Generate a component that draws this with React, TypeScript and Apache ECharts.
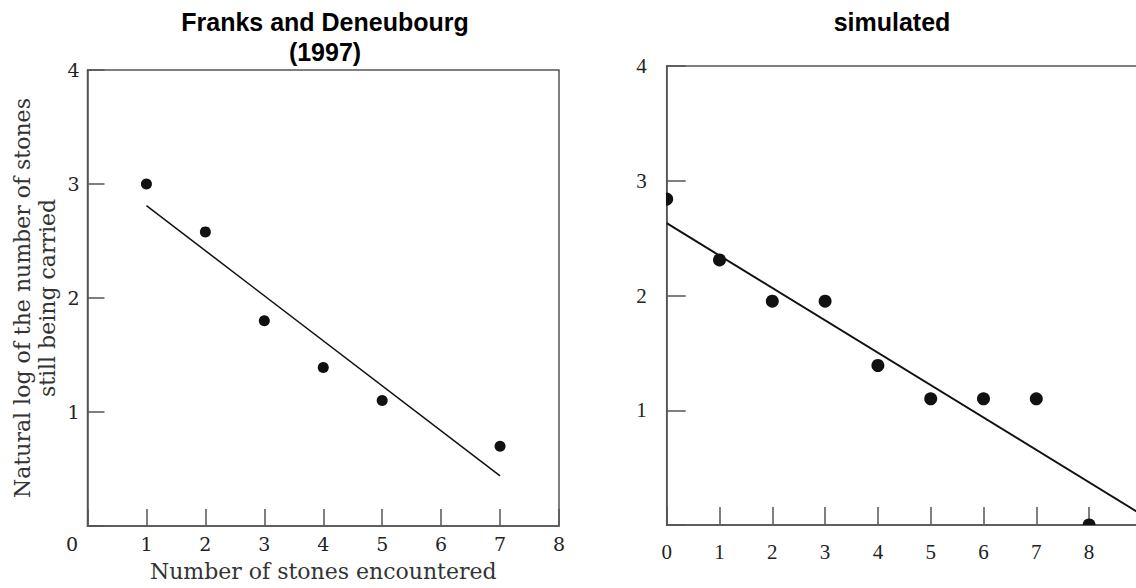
import React, { useEffect, useRef } from "react";
import * as echarts from "echarts";

// Franks and Deneubourg (1997): stones encountered vs ln(stones still carried)
const fieldX = [1, 2, 3, 4, 5, 7];
const fieldY = [3.0, 2.58, 1.8, 1.39, 1.1, 0.7];
const fieldFitX = [1, 7];
const fieldFitY = [2.81, 0.44];

// Simulated run
const simX = [0, 1, 2, 3, 4, 5, 6, 7, 8];
const simY = [2.84, 2.31, 1.95, 1.95, 1.39, 1.1, 1.1, 1.1, 0];
const simFitX = [0, 9];
const simFitY = [2.63, 0.09];
const simLabelMax = 8;

const leftTitle = "Franks and Deneubourg\n(1997)";
const rightTitle = "simulated";
const yName = "Natural log of the number of stones\nstill being carried";
const xName = "Number of stones encountered";

const zip = (xs: number[], ys: number[]) => xs.map((x, i) => [x, ys[i]]);

const AXIS = "#555";
const INK = "#111";

const dotSeries = (idx: number, data: number[][], size: number) => ({
  type: "custom",
  xAxisIndex: idx,
  yAxisIndex: idx,
  clip: true,
  encode: { x: 0, y: 1 },
  data,
  renderItem: (_p: any, api: any) => {
    const c = api.coord([api.value(0), api.value(1)]);
    return {
      type: "circle",
      shape: { cx: c[0], cy: c[1], r: size / 2 },
      style: { fill: INK },
    };
  },
});

const fitSeries = (idx: number, data: number[][], width: number) => ({
  type: "line",
  xAxisIndex: idx,
  yAxisIndex: idx,
  data,
  clip: true,
  showSymbol: false,
  symbol: "none",
  lineStyle: { color: INK, width },
});

export default function App() {
  const ref = useRef<HTMLDivElement>(null);

  useEffect(() => {
    if (!ref.current) return;
    const chart = echarts.init(ref.current, undefined, { renderer: "svg" });
    const serifL = "DejaVu Serif";
    const serifR = "Liberation Serif";

    chart.setOption({
      animation: false,
      backgroundColor: "#fff",
      title: [
        {
          text: leftTitle,
          left: 325,
          top: 7,
          textAlign: "center",
          padding: 0,
          textStyle: {
            fontFamily: "Liberation Sans",
            fontWeight: "bold",
            fontSize: 25,
            lineHeight: 30,
            color: "#000",
          },
        },
        {
          text: rightTitle,
          left: 892,
          top: 7,
          textAlign: "center",
          padding: 0,
          textStyle: {
            fontFamily: "Liberation Sans",
            fontWeight: "bold",
            fontSize: 25,
            lineHeight: 30,
            color: "#000",
          },
        },
      ],
      grid: [
        {
          left: 87.5,
          top: 70,
          width: 471.5,
          height: 459.5,
          show: true,
          borderColor: AXIS,
          borderWidth: 1.5,
          containLabel: false,
        },
        {
          left: 666.7,
          top: 66,
          width: 528,
          height: 459,
          show: true,
          borderColor: AXIS,
          borderWidth: 1.5,
          containLabel: false,
        },
      ],
      xAxis: [
        {
          gridIndex: 0,
          type: "value",
          min: 0,
          max: 8,
          interval: 1,
          name: xName,
          nameLocation: "middle",
          nameGap: 33,
          nameTextStyle: {
            fontFamily: serifL,
            fontSize: 22,
            lineHeight: 24,
            color: "#333",
          },
          axisLine: { show: true, lineStyle: { color: AXIS, width: 1.5 } },
          axisTick: { show: true, inside: true, length: 17, lineStyle: { color: AXIS, width: 1.5 } },
          splitLine: { show: false },
          axisLabel: {
            margin: 8,
            fontFamily: serifL,
            fontSize: 19,
            color: "#222",
            formatter: (v: number) => (v === 0 ? "{o|0}" : String(v)),
            rich: {
              o: { fontFamily: serifL, fontSize: 19, color: "#222", padding: [0, 31, 0, 0] },
            },
          },
        },
        {
          gridIndex: 1,
          type: "value",
          min: 0,
          max: 10,
          interval: 1,
          axisLine: { show: true, lineStyle: { color: AXIS, width: 1.5 } },
          axisTick: { show: true, inside: true, length: 18, lineStyle: { color: AXIS, width: 1.5 } },
          splitLine: { show: false },
          axisLabel: {
            margin: 16,
            fontFamily: serifR,
            fontSize: 21,
            color: "#222",
            formatter: (v: number) => (v > simLabelMax ? "" : String(v)),
          },
        },
      ],
      yAxis: [
        {
          gridIndex: 0,
          type: "value",
          min: 0,
          max: 4,
          interval: 1,
          name: yName,
          nameLocation: "middle",
          nameRotate: 90,
          nameGap: 28,
          nameTextStyle: {
            fontFamily: serifL,
            fontSize: 22,
            lineHeight: 25,
            color: "#333",
          },
          axisLine: { show: true, lineStyle: { color: AXIS, width: 1.5 } },
          axisTick: { show: true, inside: true, length: 17, lineStyle: { color: AXIS, width: 1.5 } },
          splitLine: { show: false },
          axisLabel: {
            margin: 8,
            fontFamily: serifL,
            fontSize: 19,
            color: "#222",
            formatter: (v: number) => (v === 0 ? "" : String(v)),
          },
        },
        {
          gridIndex: 1,
          type: "value",
          min: 0,
          max: 4,
          interval: 1,
          axisLine: { show: true, lineStyle: { color: AXIS, width: 1.5 } },
          axisTick: { show: true, inside: true, length: 19, lineStyle: { color: AXIS, width: 1.5 } },
          splitLine: { show: false },
          axisLabel: {
            margin: 20,
            fontFamily: serifR,
            fontSize: 21,
            color: "#222",
            formatter: (v: number) => (v === 0 ? "" : String(v)),
          },
        },
      ],
      series: [
        fitSeries(0, zip(fieldFitX, fieldFitY), 1.5),
        dotSeries(0, zip(fieldX, fieldY), 11),
        fitSeries(1, zip(simFitX, simFitY), 2),
        dotSeries(1, zip(simX, simY), 13),
      ],
    });

    return () => chart.dispose();
  }, []);

  // The drawing surface is wider than the visible frame so the right panel runs off its edge.
  return (
    <div style={{ position: "absolute", left: 0, top: 0, width: 1136, height: 588, overflow: "hidden" }}>
      <div ref={ref} style={{ width: 1220, height: 588 }} />
    </div>
  );
}
